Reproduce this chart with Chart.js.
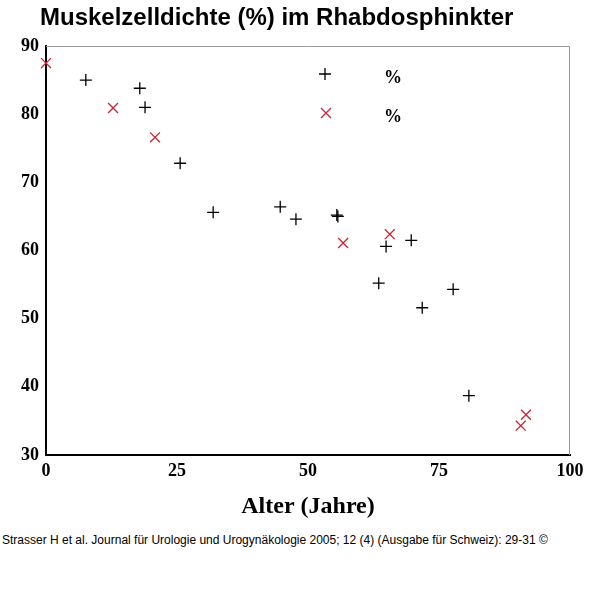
<!DOCTYPE html>
<html><head><meta charset="utf-8">
<script src="https://cdn.jsdelivr.net/npm/chart.js@4"></script>
<style>body{margin:0;background:#fff;width:600px;height:591px;overflow:hidden;position:relative}
#c{position:absolute;left:0;top:0}
#foot{position:absolute;left:2px;top:533px;font:12px "Liberation Sans",Arial;color:#000;white-space:nowrap}</style>
</head><body>
<canvas id="c" width="600" height="525"></canvas>
<div id="foot">Strasser H et al. Journal für Urologie und Urogynäkologie 2005; 12 (4) (Ausgabe für Schweiz): 29-31 ©</div>
<script>
const blackAge=[7.6,17.9,18.9,25.6,31.9,44.7,47.7,55.5,55.7,64.9,63.5,69.7,71.8,77.7,80.7];
const blackVal=[85.0,83.8,81.0,72.8,65.6,66.4,64.6,65.2,65.0,60.6,55.2,61.5,51.6,54.3,38.7];
const redAge=[0,12.8,20.8,56.7,65.6,90.6,91.6];
const redVal=[87.5,80.9,76.6,61.1,62.4,34.3,35.9];
const xTicks=[0,25,50,75,100];
const yTicks=[30,40,50,60,70,80,90];
const titleText='Muskelzelldichte (%) im Rhabdosphinkter';
const pts=(a,b)=>a.map((x,i)=>({x,y:b[i]}));
const legendPlugin={id:'leg',afterDraw(ch){const c=ch.ctx;c.save();
 const draw=(style,color,x,y)=>{c.strokeStyle=color;c.lineWidth=1.3;c.beginPath();
  if(style==='cross'){c.moveTo(x-6,y);c.lineTo(x+6,y);c.moveTo(x,y-6);c.lineTo(x,y+6);}
  else{c.moveTo(x-5,y-5);c.lineTo(x+5,y+5);c.moveTo(x-5,y+5);c.lineTo(x+5,y-5);}c.stroke();};
 draw('cross','#000',325,74);draw('crossRot','#cc2233',326,113);
 c.fillStyle='#000';c.font='bold 18px "Liberation Serif"';c.textBaseline='middle';
 c.fillText('%',384,78);c.fillText('%',384,117);
 c.font='bold 24px "Liberation Sans"';c.fillText(titleText,40,18);
 const a=ch.chartArea;c.strokeStyle='#999';c.lineWidth=1;c.beginPath();c.moveTo(a.left,a.top+0.5);c.lineTo(a.right-0.5,a.top+0.5);c.lineTo(a.right-0.5,a.bottom);c.stroke();
 c.restore();}};
new Chart(document.getElementById('c'),{type:'scatter',
 data:{datasets:[
  {data:pts(blackAge,blackVal),pointStyle:'cross',radius:6,borderColor:'#000',borderWidth:1.3,clip:false},
  {data:pts(redAge,redVal),pointStyle:'crossRot',radius:7,borderColor:'#cc2233',borderWidth:1.3,clip:false}]},
 options:{responsive:false,animation:false,devicePixelRatio:1,
  layout:{padding:{left:0,right:30,top:46,bottom:0}},
  plugins:{legend:{display:false},tooltip:{enabled:false},title:{display:false}},
  scales:{
   x:{type:'linear',min:0,max:100,afterBuildTicks:s=>{s.ticks=xTicks.map(v=>({value:v}));},afterFit:s=>{s.height=70;},
    grid:{display:false,drawTicks:true,tickLength:6,tickColor:'#000'},border:{color:'#000',width:2},
    ticks:{color:'#000',font:{family:'"Liberation Serif"',size:18,weight:'bold'},padding:0,maxRotation:0},
    title:{display:true,text:'Alter (Jahre)',color:'#000',font:{family:'"Liberation Serif"',size:24,weight:'bold'},padding:{top:8}}},
   y:{min:30,max:90,afterBuildTicks:s=>{s.ticks=yTicks.map(v=>({value:v}));},afterFit:s=>{s.width=46;},
    grid:{display:false,drawTicks:true,tickLength:6,tickColor:'#000'},border:{color:'#000',width:2},
    ticks:{color:'#000',font:{family:'"Liberation Serif"',size:18,weight:'bold'},padding:1}}}},
 plugins:[legendPlugin]});
</script></body></html>
